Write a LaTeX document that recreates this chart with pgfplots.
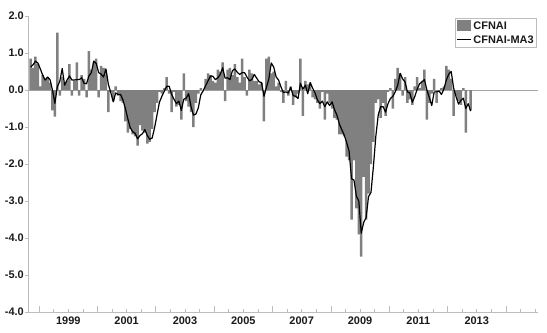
\documentclass[border=0pt]{standalone}
\usepackage{fontspec}
\setmainfont{Liberation Sans}
\usepackage{pgfplots}
\usepackage{pgfplotstable}
\pgfplotsset{compat=1.18}
\definecolor{cfgray}{HTML}{808080}
\definecolor{axgray}{HTML}{BDBDBD}
\definecolor{zgray}{HTML}{A6A6A6}
\definecolor{lblcol}{HTML}{1A1A1A}
% k = months since Sep 1997 (0 = Sep 1997, 181 = Oct 2012)
\pgfplotstableread{
k c m
0 0.85 0.62
1 0.60 0.68
2 0.90 0.78
3 0.70 0.73
4 0.10 0.57
5 0.40 0.40
6 0.30 0.27
7 0.35 0.35
8 0.20 0.28
9 -0.55 0.00
10 -0.72 -0.36
11 1.55 0.09
12 -0.15 0.23
13 0.35 0.58
14 0.20 0.13
15 0.25 0.27
16 0.70 0.38
17 -0.15 0.27
18 0.25 0.27
19 0.75 0.28
20 -0.15 0.28
21 0.40 0.33
22 0.30 0.18
23 -0.20 0.17
24 1.05 0.38
25 0.55 0.47
26 0.75 0.78
27 0.85 0.72
28 -0.20 0.47
29 0.65 0.43
30 0.60 0.35
31 0.45 0.57
32 -0.60 0.15
33 -0.05 -0.07
34 -0.30 -0.32
35 0.10 -0.08
36 -0.15 -0.12
37 -0.30 -0.12
38 -0.35 -0.27
39 -0.85 -0.50
40 -1.15 -0.78
41 -1.05 -1.02
42 -1.20 -1.13
43 -1.25 -1.17
44 -1.50 -1.32
45 -0.95 -1.23
46 -1.10 -1.18
47 -1.15 -1.07
48 -1.45 -1.23
49 -1.40 -1.33
50 -1.05 -1.30
51 -0.60 -1.02
52 -0.35 -0.67
53 -0.05 -0.33
54 -0.10 -0.17
55 0.05 -0.03
56 0.35 0.10
57 -0.10 0.10
58 -0.60 -0.12
59 -0.05 -0.25
60 -0.45 -0.37
61 -0.40 -0.30
62 -0.80 -0.55
63 0.45 -0.25
64 -0.30 -0.22
65 -0.45 -0.10
66 -0.60 -0.45
67 -1.00 -0.68
68 -0.35 -0.65
69 -0.10 -0.48
70 0.05 -0.13
71 0.00 -0.02
72 0.30 0.12
73 0.45 0.25
74 0.40 0.38
75 0.25 0.37
76 0.20 0.28
77 0.55 0.33
78 0.50 0.42
79 0.75 0.60
80 -0.30 0.32
81 0.55 0.33
82 0.60 0.28
83 0.40 0.52
84 0.70 0.57
85 0.35 0.48
86 0.20 0.42
87 0.85 0.47
88 0.35 0.47
89 -0.15 0.35
90 0.55 0.25
91 0.45 0.28
92 0.25 0.42
93 0.25 0.32
94 0.15 0.22
95 0.20 0.20
96 -0.85 -0.17
97 0.85 0.07
98 0.90 0.30
99 0.45 0.73
100 0.50 0.62
101 0.10 0.35
102 0.20 0.27
103 -0.05 0.08
104 -0.35 -0.07
105 0.25 -0.05
106 -0.15 -0.08
107 0.10 0.07
108 -0.40 -0.15
109 -0.20 -0.17
110 -0.10 -0.23
111 0.85 0.18
112 -0.70 0.02
113 0.25 0.13
114 0.15 -0.10
115 0.20 0.20
116 -0.20 0.05
117 -0.25 -0.08
118 -0.35 -0.27
119 -0.50 -0.37
120 -0.05 -0.30
121 -0.80 -0.45
122 -0.10 -0.32
123 -0.35 -0.42
124 -0.50 -0.32
125 -0.75 -0.53
126 -0.80 -0.68
127 -1.20 -0.92
128 -1.20 -1.07
129 -1.25 -1.22
130 -1.80 -1.42
131 -1.90 -1.65
132 -3.50 -2.40
133 -1.90 -2.43
134 -3.20 -2.87
135 -3.90 -3.00
136 -4.50 -3.87
137 -2.35 -3.58
138 -3.50 -3.45
139 -2.80 -2.88
140 -2.00 -2.77
141 -1.40 -2.07
142 -0.35 -1.25
143 -0.25 -0.67
144 -0.75 -0.45
145 -0.35 -0.45
146 -0.70 -0.60
147 -0.05 -0.37
148 0.05 -0.23
149 -0.50 -0.17
150 0.30 -0.05
151 0.60 0.13
152 0.45 0.45
153 -0.15 0.30
154 0.35 0.22
155 -0.35 -0.05
156 -0.25 -0.08
157 -0.40 -0.33
158 0.10 -0.18
159 0.35 0.02
160 0.05 0.17
161 0.25 0.22
162 0.55 0.28
163 -0.80 0.00
164 -0.35 -0.20
165 -0.10 -0.42
166 0.30 -0.05
167 -0.35 -0.05
168 -0.05 -0.03
169 0.05 -0.12
170 0.10 0.03
171 0.65 0.27
172 0.55 0.43
173 0.30 0.50
174 -0.70 0.05
175 -0.15 -0.18
176 -0.30 -0.38
177 -0.40 -0.28
178 0.05 -0.22
179 -1.15 -0.50
180 0.00 -0.37
181 -0.55 -0.57
}\cfdata
\begin{document}
\begin{tikzpicture}
\begin{axis}[
  name=ax,
  scale only axis,
  width=509.7bp, height=296bp,
  xmin=-0.94, xmax=208.7,
  ymin=-6, ymax=2,
  axis x line=bottom, axis y line=left,
  axis line style={draw=axgray, line width=0.8bp, -},
  tick align=inside,
  tick style={draw=axgray, line width=0.7bp},
  major tick length=3bp, minor tick length=3bp,
  xtick={15.5,39.5,63.5,87.5,111.5,135.5,159.5,183.5},
  xticklabels={\textbf{1999},\textbf{2001},\textbf{2003},\textbf{2005},\textbf{2007},\textbf{2009},\textbf{2011},\textbf{2013}},
  minor xtick={3.5,9.5,...,207.5},
  extra x ticks={3.5,27.5,51.5,75.5,99.5,123.5,147.5,171.5,195.5},
  extra x tick labels={},
  extra x tick style={major tick length=6bp},
  ytick={-6,-5,-4,-3,-2,-1,0,1,2},
  yticklabels={\textbf{-4.0},\textbf{-5.0},\textbf{-4.0},\textbf{-3.0},\textbf{-2.0},\textbf{-1.0},\textbf{0.0},\textbf{1.0},\textbf{2.0}},
  ytick style={xshift=-3bp},
  ticklabel style={font=\fontsize{11}{12}\selectfont\bfseries, text=lblcol},
  xticklabel style={yshift=-1.5bp},
  yticklabel style={xshift=-1bp},
  legend style={at={(1,1)}, anchor=north east, xshift=-1bp, yshift=-2bp,
    draw=axgray, line width=0.6bp, inner sep=1.5bp, row sep=2bp,
    font=\fontsize{11}{12}\selectfont\bfseries, text=lblcol,
    nodes={inner sep=1.5bp, text height=8bp, text depth=1bp}},
  legend cell align=left,
]
\addplot[zgray, line width=0.8bp, forget plot] coordinates {(-0.94,0) (208.7,0)};
\addplot[ybar, bar width=1.03, fill=cfgray, draw=none,
  legend image code/.code={\fill[cfgray] (0bp,-5bp) rectangle (14bp,5.5bp);}]
  table[x=k, y=c] {\cfdata};
\addlegendentry{CFNAI}
\addplot[black, line width=1.2bp, line join=round,
  legend image code/.code={\draw[black, line width=1.2bp] (0bp,0bp) -- (14bp,0bp);}]
  table[x=k, y=m] {\cfdata};
\addlegendentry{CFNAI-MA3}
\end{axis}
\pgfresetboundingbox
\path ([shift={(-28.3bp,-21bp)}]ax.south west) rectangle ([shift={(9bp,16bp)}]ax.north east);
\end{tikzpicture}
\end{document}
